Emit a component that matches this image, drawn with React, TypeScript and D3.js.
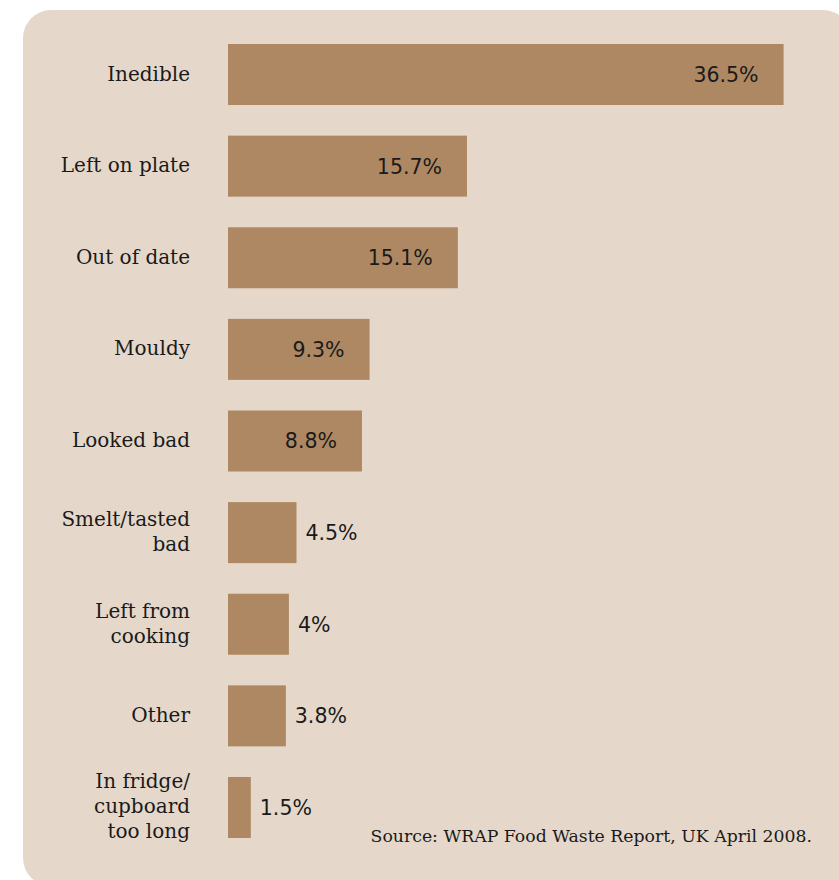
import React, { useEffect, useRef } from 'react';
import * as d3 from 'd3';

const categories: string[][] = [
  ['Inedible'],
  ['Left on plate'],
  ['Out of date'],
  ['Mouldy'],
  ['Looked bad'],
  ['Smelt/tasted', 'bad'],
  ['Left from', 'cooking'],
  ['Other'],
  ['In fridge/', 'cupboard', 'too long'],
];
const values: number[] = [36.5, 15.7, 15.1, 9.3, 8.8, 4.5, 4, 3.8, 1.5];
const valueLabels: string[] = ['36.5%', '15.7%', '15.1%', '9.3%', '8.8%', '4.5%', '4%', '3.8%', '1.5%'];
const source = 'Source: WRAP Food Waste Report, UK April 2008.';

const App: React.FC = () => {
  const svgRef = useRef<SVGSVGElement | null>(null);

  useEffect(() => {
    const width = 839;
    const height = 880;
    const svg = d3.select(svgRef.current)
      .attr('width', width)
      .attr('height', height);
    svg.selectAll('*').remove();

    svg.append('rect')
      .attr('width', width)
      .attr('height', height)
      .attr('fill', '#ffffff');

    // panel
    svg.append('rect')
      .attr('x', 23)
      .attr('y', 10)
      .attr('width', 828)
      .attr('height', 876)
      .attr('rx', 28)
      .attr('fill', '#e5d8cb');

    const idx = values.map((_, i) => String(i));
    const y = d3.scaleBand()
      .domain(idx)
      .range([44, 838])
      .paddingInner(0.334)
      .paddingOuter(0);

    const x = d3.scaleLinear()
      .domain([0, 38.3])
      .range([228, 811]);

    const g = svg.append('g');

    values.forEach((v, i) => {
      const y0 = y(String(i)) as number;
      const cy = y0 + y.bandwidth() / 2;
      g.append('rect')
        .attr('x', x(0))
        .attr('y', y0)
        .attr('width', x(v) - x(0))
        .attr('height', y.bandwidth())
        .attr('fill', '#ae8862');

      const inside = v > 6;
      g.append('text')
        .attr('x', inside ? x(v) - 25 : x(v) + 9)
        .attr('y', cy)
        .attr('dy', '0.36em')
        .attr('text-anchor', inside ? 'end' : 'start')
        .attr('font-family', '"DejaVu Sans", Verdana, sans-serif')
        .attr('font-size', 20.5)
        .attr('fill', '#1a1a1a')
        .text(valueLabels[i]);

      const lines = categories[i];
      const lh = 25;
      const t = g.append('text')
        .attr('text-anchor', 'end')
        .attr('font-family', '"DejaVu Serif", serif')
        .attr('font-size', 20)
        .attr('fill', '#1a1a1a');
      lines.forEach((line, j) => {
        t.append('tspan')
          .attr('x', 190)
          .attr('y', cy + (j - (lines.length - 1) / 2) * lh)
          .attr('dy', '0.3em')
          .text(line);
      });
    });

    svg.append('text')
      .attr('x', 812)
      .attr('y', 842)
      .attr('text-anchor', 'end')
      .attr('font-family', '"DejaVu Serif", serif')
      .attr('font-size', 17.3)
      .attr('fill', '#1a1a1a')
      .text(source);
  }, []);

  return (
    <div>
      <svg ref={svgRef} style={{ position: 'absolute', left: 0, top: 0 }}></svg>
    </div>
  );
};

export default App;
